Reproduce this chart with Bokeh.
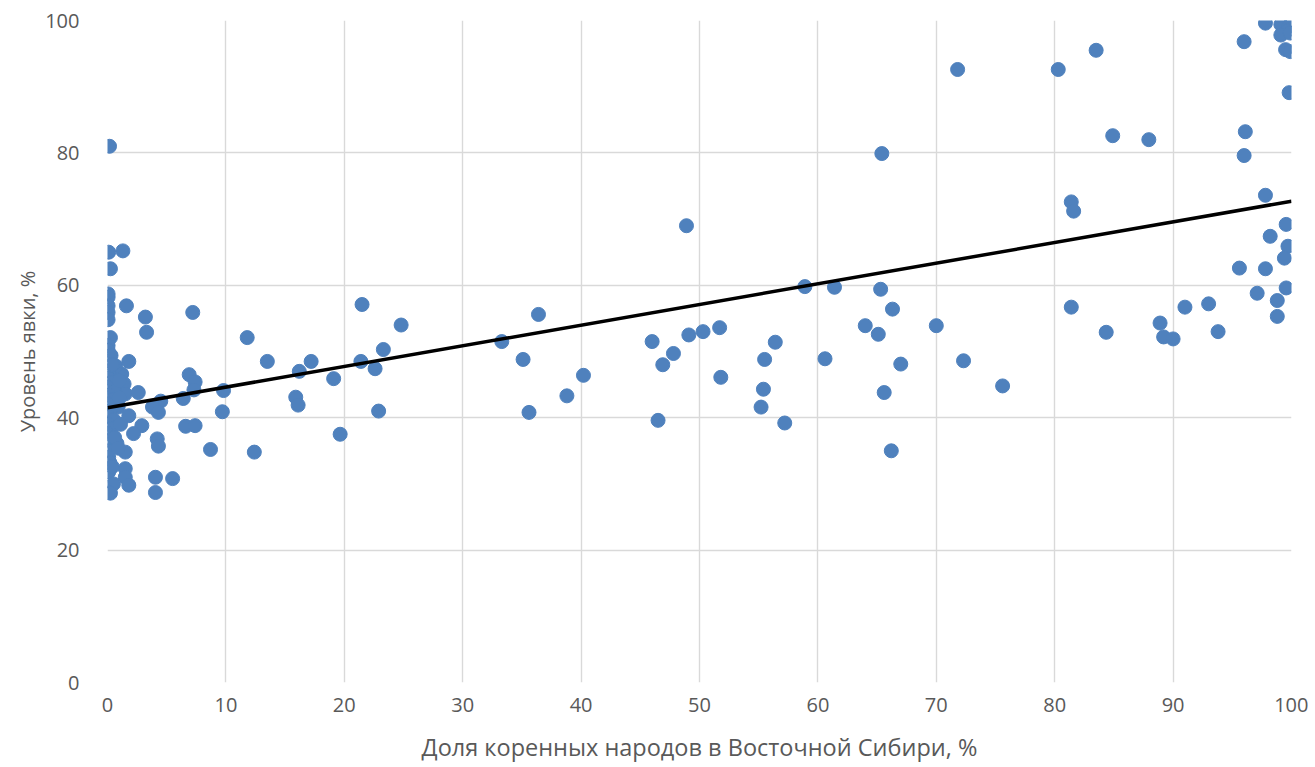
from bokeh.plotting import figure
from bokeh.models import Range1d, FixedTicker
from bokeh.embed import file_html
from bokeh.resources import INLINE

# Share of indigenous peoples (%) and turnout (%) per district
indigenous_share = [
    0.17, 0.1, 1.3, 0.25, 0.05, 0.05, 0.05, 0.05, 0.05, 1.6, 3.2, 3.3, 7.2, 11.8, 13.5,
    0.25, 0.05, 0.05, 0.05, 1.8, 0.1, 0.8, 1.2, 1.4, 1.5, 2.6, 6.9, 7.4, 7.3, 9.8, 9.7,
    4.5, 3.8, 4.3, 6.4, 1.8, 2.9, 2.2, 6.6, 7.4, 4.2, 4.3, 8.7, 12.4, 1.5, 0.8, 0.05,
    0.05, 0.1, 0.1, 1.5, 1.5, 1.8, 0.5, 0.25, 4.05, 5.5, 4.05,
    0.0, 0.3, 0.0, 0.6, 0.1, 0.4, 0.0, 0.9, 0.2, 0.0, 0.5, 0.1, 0.3, 0.0, 0.6, 0.2,
    0.4, 0.9, 1.0, 0.7, 0.3, 1.0, 0.4, 1.1,
    16.2, 17.2, 15.9, 16.1, 19.1, 19.65, 21.5, 21.4, 22.6, 23.3, 22.9, 24.8,
    33.3, 35.1, 36.4, 35.6, 38.8, 40.2, 48.9, 46.0, 46.9, 47.8, 49.1, 50.3, 51.7, 46.5,
    51.8, 56.4, 55.5, 55.4, 55.2, 57.2,
    65.4, 58.9, 61.4, 65.3, 66.3, 64.0, 65.1, 70.0, 60.6, 67.0, 72.3, 75.6, 65.6, 66.2,
    71.8, 80.3, 83.5, 84.9, 87.95, 81.4, 81.6, 81.4, 84.35,
    97.8, 99.1, 99.8, 99.6, 99.1, 99.9, 96.0, 99.5, 99.9, 99.8, 96.1, 96.0, 97.8, 99.55,
    98.2, 99.7, 99.4, 95.6, 97.8, 99.55, 97.1, 98.8, 98.8, 91.0, 93.0, 88.9, 89.2, 90.0,
    93.8,
]
turnout = [
    81.0, 65.0, 65.2, 62.5, 58.7, 58.2, 56.9, 55.9, 54.8, 56.9, 55.2, 52.9, 55.9, 52.1, 48.5,
    52.1, 50.9, 50.2, 48.6, 48.5, 47.1, 46.9, 46.6, 45.1, 43.6, 43.8, 46.5, 45.4, 44.2, 44.1, 40.9,
    42.5, 41.6, 40.8, 42.9, 40.3, 38.8, 37.6, 38.7, 38.8, 36.8, 35.7, 35.2, 34.8, 34.8, 36.1, 36.6,
    35.0, 34.0, 31.8, 32.3, 31.0, 29.8, 30.0, 28.6, 31.0, 30.8, 28.7,
    46.0, 45.3, 44.6, 44.0, 43.4, 42.7, 42.1, 41.6, 41.0, 40.3, 39.7, 39.0, 38.3, 37.6, 37.0, 33.2,
    32.6, 35.4, 43.0, 47.8, 49.4, 45.6, 48.0, 39.0,
    47.0, 48.5, 43.1, 41.9, 45.9, 37.5, 57.1, 48.5, 47.4, 50.3, 41.0, 54.0,
    51.5, 48.8, 55.6, 40.8, 43.3, 46.4, 69.0, 51.5, 48.0, 49.7, 52.5, 53.0, 53.6, 39.6,
    46.1, 51.4, 48.8, 44.3, 41.6, 39.2,
    79.9, 59.8, 59.7, 59.4, 56.4, 53.9, 52.6, 53.9, 48.9, 48.1, 48.6, 44.8, 43.8, 35.0,
    92.6, 92.6, 95.5, 82.6, 82.0, 72.6, 71.2, 56.7, 52.9,
    99.6, 99.4, 99.2, 98.4, 97.8, 98.1, 96.8, 95.6, 95.3, 89.1, 83.2, 79.6, 73.6, 69.2,
    67.4, 65.9, 64.1, 62.6, 62.5, 59.6, 58.8, 57.7, 55.3, 56.7, 57.2, 54.3, 52.2, 51.9,
    53.0,
]

# Linear trend line
trend_x = [0, 100]
trend_y = [41.5, 72.7]

x_ticks = [0, 10, 20, 30, 40, 50, 60, 70, 80, 90, 100]
y_ticks = [0, 20, 40, 60, 80, 100]

x_title = "Доля коренных народов в Восточной Сибири, %"
y_title = "Уровень явки, %"

TEXT = "#595959"
GRID = "#D9D9D9"
BLUE = "#4F81BD"
FONT = "Open Sans"

p = figure(
    frame_width=1184, frame_height=662,
    x_range=Range1d(0, 100), y_range=Range1d(0, 100),
    output_backend="svg", toolbar_location=None,
    min_border_left=107, min_border_right=17, min_border_top=20, min_border_bottom=4,
)
p.outline_line_color = None
p.background_fill_color = "white"
p.border_fill_color = "white"

for ax in (p.xaxis[0], p.yaxis[0]):
    ax.axis_line_color = None
    ax.major_tick_line_color = None
    ax.minor_tick_line_color = None
    ax.major_label_text_color = TEXT
    ax.major_label_text_font = FONT
    ax.major_label_text_font_size = "20px"
    ax.axis_label_text_color = TEXT
    ax.axis_label_text_font = FONT
    ax.axis_label_text_font_style = "normal"

p.xaxis[0].axis_label_text_font_size = "23.5px"
p.yaxis[0].axis_label_text_font_size = "20px"
p.xaxis[0].ticker = FixedTicker(ticks=x_ticks)
p.yaxis[0].ticker = FixedTicker(ticks=y_ticks)
p.xaxis[0].axis_label = x_title
p.yaxis[0].axis_label = y_title
p.xaxis[0].major_label_standoff = 9
p.yaxis[0].major_label_standoff = 22
p.xaxis[0].axis_label_standoff = 16
p.yaxis[0].axis_label_standoff = 1

p.xgrid[0].ticker = FixedTicker(ticks=x_ticks)
p.ygrid[0].ticker = FixedTicker(ticks=y_ticks)
for g in (p.xgrid[0], p.ygrid[0]):
    g.grid_line_color = GRID
    g.grid_line_width = 1.4

p.scatter(indigenous_share, turnout, size=14, marker="circle",
          fill_color=BLUE, line_color=BLUE, line_width=1)
p.line(trend_x, trend_y, line_color="black", line_width=3.5)

open("out.html", "w").write(file_html(p, INLINE))
